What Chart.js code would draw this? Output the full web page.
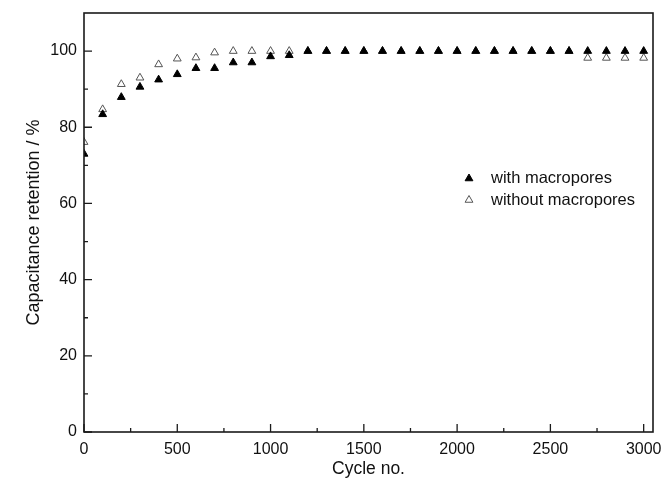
<!DOCTYPE html>
<html>
<head>
<meta charset="utf-8">
<script src="https://cdn.jsdelivr.net/npm/chart.js@4/dist/chart.umd.min.js"></script>
<style>
html,body{margin:0;padding:0;background:#fff;}
#wrap{width:664px;height:480px;}
</style>
</head>
<body>
<div id="wrap"><canvas id="c" width="664" height="480"></canvas></div>
<script>
// ---- data ----
const cycles = [0,100,200,300,400,500,600,700,800,900,1000,1100,1200,1300,1400,1500,1600,1700,1800,1900,2000,2100,2200,2300,2400,2500,2600,2700,2800,2900,3000];
const withMacro = [73,83.4,87.9,90.6,92.5,93.9,95.5,95.5,97,97,98.6,98.9,100,100,100,100,100,100,100,100,100,100,100,100,100,100,100,100,100,100,100];
const withoutMacro = [76.1,84.7,91.3,93,96.5,98,98.3,99.6,100,100,100,100,100,100,100,100,100,100,100,100,100,100,100,100,100,100,100,98.2,98.2,98.2,98.2];
const seriesNames = ['with macropores','without macropores'];
const xTicks = [0,500,1000,1500,2000,2500,3000];
const xMinor = [250,750,1250,1750,2250,2750];
const yTicks = [0,20,40,60,80,100];
const yMinor = [10,30,50,70,90];
const xTitle = 'Cycle no.';
const yTitle = 'Capacitance retention / %';

const FONT = "'Liberation Sans', Arial, sans-serif";
const INK = '#1a1a1a';

function pts(ys){ return cycles.map((x,i)=>({x:x,y:ys[i]})); }

const framePlugin = {
  id:'frame',
  afterDatasetsDraw(chart){
    const {ctx, chartArea:a, scales:{x,y}} = chart;
    ctx.save();
    ctx.strokeStyle = INK;
    ctx.lineWidth = 1.6;
    ctx.strokeRect(a.left, a.top, a.right-a.left, a.bottom-a.top);
    ctx.lineWidth = 1.3;
    ctx.beginPath();
    xTicks.forEach(v=>{const p=x.getPixelForValue(v); ctx.moveTo(p,a.bottom); ctx.lineTo(p,a.bottom-8);});
    xMinor.forEach(v=>{const p=x.getPixelForValue(v); ctx.moveTo(p,a.bottom); ctx.lineTo(p,a.bottom-4);});
    yTicks.forEach(v=>{const p=y.getPixelForValue(v); ctx.moveTo(a.left,p); ctx.lineTo(a.left+8,p);});
    yMinor.forEach(v=>{const p=y.getPixelForValue(v); ctx.moveTo(a.left,p); ctx.lineTo(a.left+4,p);});
    ctx.stroke();
    // legend
    const lx = 469, ly = [178.5, 200], tx = 491;
    ctx.font = "16.5px " + FONT;
    ctx.textBaseline = 'middle';
    chart.data.datasets.forEach((ds,i)=>{
      ctx.save();
      ctx.fillStyle = ds.pointBackgroundColor;
      ctx.strokeStyle = ds.pointBorderColor;
      ctx.lineWidth = ds.borderWidth;
      ctx.beginPath();
      const r = ds.pointRadius;
      for(let k=0;k<3;k++){
        const ang = k*2*Math.PI/3;
        const px = lx + Math.sin(ang)*r, py = ly[i] - Math.cos(ang)*r;
        if(k===0) ctx.moveTo(px,py); else ctx.lineTo(px,py);
      }
      ctx.closePath();
      ctx.fill(); ctx.stroke();
      ctx.restore();
      ctx.fillStyle = '#111';
      ctx.fillText(ds.label, tx, ly[i]);
    });
    ctx.restore();
  }
};

new Chart(document.getElementById('c'), {
  type:'scatter',
  data:{
    datasets:[
      {label:seriesNames[0], data:pts(withMacro), pointStyle:'triangle', pointRadius:4.5,
       pointBackgroundColor:'#000', pointBorderColor:'#000', borderWidth:1, order:1},
      {label:seriesNames[1], data:pts(withoutMacro), pointStyle:'triangle', pointRadius:4.5,
       pointBackgroundColor:'rgba(255,255,255,0)', pointBorderColor:'#555', borderWidth:1, order:2}
    ]
  },
  options:{
    responsive:false,
    animation:false,
    layout:{padding:{top:13,right:11,left:0,bottom:0}},
    plugins:{legend:{display:false}, tooltip:{enabled:false}},
    scales:{
      x:{
        type:'linear', min:0, max:3050,
        grid:{display:false, drawTicks:false},
        border:{display:false},
        afterBuildTicks(s){ s.ticks = xTicks.map(v=>({value:v})); },
        afterFit(s){ s.height = 48; s.paddingLeft = 0; s.paddingRight = 0; },
        ticks:{color:'#111', font:{family:FONT, size:16}, padding:8, maxRotation:0, autoSkip:false,
               callback:(v)=>String(v)},
        title:{display:true, text:xTitle, color:'#111', font:{family:FONT, size:17.5}, padding:{top:0,bottom:0}}
      },
      y:{
        type:'linear', min:0, max:110,
        grid:{display:false, drawTicks:false},
        border:{display:false},
        afterBuildTicks(s){ s.ticks = yTicks.map(v=>({value:v})); },
        afterFit(s){ s.width = 84; s.paddingTop = 0; s.paddingBottom = 0; },
        ticks:{color:'#111', font:{family:FONT, size:16}, padding:7, autoSkip:false,
               callback:(v)=>String(v)},
        title:{display:true, text:yTitle, color:'#111', font:{family:FONT, size:18}, padding:{top:23,bottom:0}}
      }
    }
  },
  plugins:[framePlugin]
});
</script>
</body>
</html>
